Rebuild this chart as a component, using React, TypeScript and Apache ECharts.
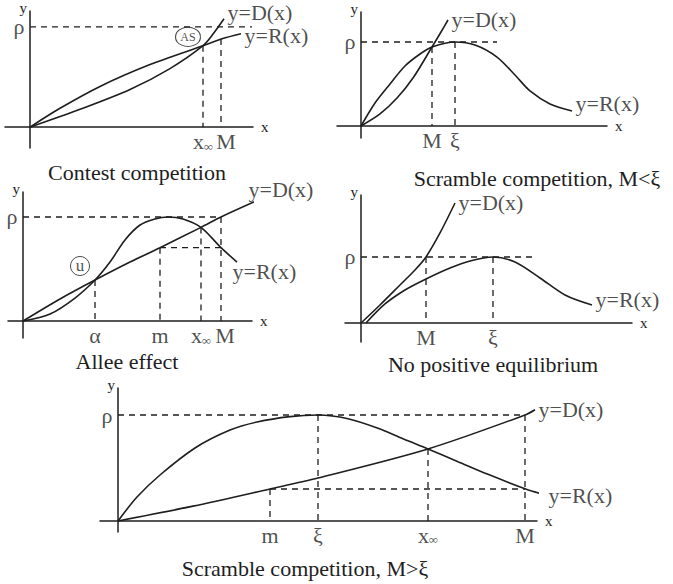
import React, { useEffect, useRef } from "react";
import * as echarts from "echarts";

type Pt = [number, number];
type Drop = [string, number, number]; // label, x, top of the dashed drop
type Step = [number, number, number]; // x from, x to, level

const INK = "#1e1e1e";
const SERIF = "'Liberation Serif', 'Times New Roman', serif";

// ---- Contest competition ----
const contestD: Pt[] = [[0, 0], [0.5, 0.178], [1.0, 0.376], [1.4, 0.584], [1.73, 0.812], [1.84, 0.941], [1.94, 1.08]];
const contestR: Pt[] = [[0, 0], [0.3, 0.188], [0.7, 0.406], [1.2, 0.624], [1.73, 0.812], [1.92, 0.881], [2.11, 0.931]];
const contestRhoEnd = 2.22;
const contestDrops: Drop[] = [["x∞", 1.73, 0.812], ["M", 1.91, 0.878]];
const contestSteps: Step[] = [];
const contestBadge: [string, number, number] = ["AS", 1.58, 0.9];

// ---- Scramble competition, M<ξ ----
const lowD: Pt[] = [[0, 0], [0.19, 0.143], [0.36, 0.333], [0.52, 0.571], [0.71, 0.94], [0.8, 1.119], [0.87, 1.262]];
const lowR: Pt[] = [[0, 0], [0.14, 0.274], [0.29, 0.5], [0.44, 0.714], [0.59, 0.857], [0.71, 0.94], [0.94, 1.0], [1.14, 0.964], [1.36, 0.821], [1.54, 0.607], [1.69, 0.417], [1.89, 0.262], [2.11, 0.179]];
const lowRhoEnd = 1.36;
const lowDrops: Drop[] = [["M", 0.71, 0.94], ["ξ", 0.94, 1.0]];

// ---- Allee effect ----
const alleeD: Pt[] = [[0, 0], [0.37, 0.212], [0.72, 0.394], [1.07, 0.567], [1.37, 0.705], [1.78, 0.9], [1.98, 1.0], [2.44, 1.2]];
const alleeR: Pt[] = [[0, 0], [0.27, 0.067], [0.52, 0.221], [0.72, 0.394], [0.87, 0.567], [1.02, 0.779], [1.17, 0.923], [1.32, 0.981], [1.45, 1.0], [1.6, 0.981], [1.78, 0.9], [1.98, 0.705], [2.14, 0.567]];
const alleeRhoEnd = 1.98;
const alleeDrops: Drop[] = [["α", 0.72, 0.394], ["m", 1.37, 0.705], ["x∞", 1.78, 0.9], ["M", 1.98, 1.0]];
const alleeSteps: Step[] = [[1.37, 1.98, 0.705]];
const alleeBadge: [string, number, number] = ["u", 0.57, 0.529];

// ---- No positive equilibrium ----
const noEqD: Pt[] = [[0, 0], [0.19, 0.273], [0.39, 0.576], [0.54, 0.803], [0.65, 1.0], [0.79, 1.364], [0.94, 1.818]];
const noEqR: Pt[] = [[0.05, 0], [0.24, 0.288], [0.44, 0.5], [0.65, 0.667], [0.89, 0.833], [1.09, 0.939], [1.32, 1.0], [1.54, 0.924], [1.79, 0.682], [2.04, 0.424], [2.31, 0.273]];
const noEqRhoEnd = 1.72;
const noEqDrops: Drop[] = [["M", 0.65, 1.0], ["ξ", 1.32, 1.0]];

// ---- Scramble competition, M>ξ ----
const highD: Pt[] = [[0, 0], [0.75, 0.14], [1.52, 0.302], [2.0, 0.406], [3.1, 0.68], [4.07, 1.0], [4.17, 1.05]];
const highR: Pt[] = [[0, 0], [0.19, 0.226], [0.42, 0.434], [0.77, 0.689], [1.12, 0.858], [1.39, 0.934], [1.72, 0.985], [2.0, 1.0], [2.3, 0.965], [2.6, 0.875], [2.85, 0.775], [3.1, 0.68], [3.4, 0.56], [3.7, 0.44], [4.07, 0.305], [4.27, 0.245]];
const highRhoEnd = 4.07;
const highDrops: Drop[] = [["m", 1.52, 0.302], ["ξ", 2.0, 1.0], ["x∞", 3.1, 0.68], ["M", 4.07, 1.0]];
const highSteps: Step[] = [[1.52, 4.07, 0.302]];

const titles = [
  "Contest competition",
  "Scramble competition, M<ξ",
  "Allee effect",
  "No positive equilibrium",
  "Scramble competition, M>ξ",
];

const panels = [
  { D: contestD, R: contestR, rhoEnd: contestRhoEnd, drops: contestDrops, steps: contestSteps, badge: contestBadge },
  { D: lowD, R: lowR, rhoEnd: lowRhoEnd, drops: lowDrops, steps: [] as Step[], badge: null },
  { D: alleeD, R: alleeR, rhoEnd: alleeRhoEnd, drops: alleeDrops, steps: alleeSteps, badge: alleeBadge },
  { D: noEqD, R: noEqR, rhoEnd: noEqRhoEnd, drops: noEqDrops, steps: [] as Step[], badge: null },
  { D: highD, R: highR, rhoEnd: highRhoEnd, drops: highDrops, steps: highSteps, badge: null },
];

// pixel frame of each small plot and the extent of its axes
const frames = [
  { left: 5, top: 10, width: 248, height: 138, x: [-0.25, 2.23], y: [-0.208, 1.158], title: [137, 172], dOff: [0, -6], rOff: [0, 2], nudge: { M: 5 } as Record<string, number>, badgeSize: [25, 19] },
  { left: 337, top: 12, width: 270, height: 126, x: [-0.24, 2.46], y: [-0.143, 1.357], title: [537, 178], dOff: [0, 0], rOff: [0, -7], nudge: {} as Record<string, number>, badgeSize: [0, 0] },
  { left: 8, top: 192, width: 244, height: 146, x: [-0.15, 2.29], y: [-0.163, 1.24], title: [127, 361], dOff: [-22, -7], rOff: [-8, 9], nudge: { M: 4 } as Record<string, number>, badgeSize: [19, 19] },
  { left: 345, top: 195, width: 287, height: 147, x: [-0.16, 2.71], y: [-0.288, 1.939], title: [493, 364], dOff: [0, 0], rOff: [0, -5], nudge: {} as Record<string, number>, badgeSize: [0, 0] },
  { left: 100, top: 388, width: 437, height: 144, x: [-0.18, 4.19], y: [-0.104, 1.255], title: [305, 568], dOff: [0, 0], rOff: [0, 0], nudge: {} as Record<string, number>, badgeSize: [0, 0] },
];

const BIG = 22;
const textBase = { fontFamily: SERIF, color: INK, fontSize: BIG };
const dashed = { color: INK, width: 1.3, type: [6, 5] as number[] };

function dropLabel(name: string) {
  if (name === "x∞") return "{a|x}{b|∞}";
  return name;
}

function buildOption() {
  const series: any[] = [];
  panels.forEach((p, i) => {
    const f = frames[i];
    const ax = { xAxisIndex: i, yAxisIndex: i };
    const curve = (pts: Pt[]) => ({
      type: "line", ...ax, data: pts, smooth: 0.3,
      symbol: "none", clip: false, silent: true,
      lineStyle: { color: INK, width: 1.6 },
    });
    series.push(curve(p.D), curve(p.R));
    const seg = (a: Pt, b: Pt) => ({
      type: "line", ...ax, data: [a, b], symbol: "none", clip: false, silent: true,
      lineStyle: dashed,
    });
    series.push(seg([0, 1], [p.rhoEnd, 1]));
    p.drops.forEach(([, x, top]) => series.push(seg([x, top], [x, 0])));
    p.steps.forEach(([x1, x2, y]) => series.push(seg([x1, y], [x2, y])));

    const notes: any[] = [];
    notes.push({ value: [0, 1], label: { formatter: "ρ", position: "left", distance: 5 } });
    p.drops.forEach(([name, x]) => {
      notes.push({
        value: [x, 0],
        label: {
          formatter: dropLabel(name), position: "bottom", distance: 3,
          offset: [f.nudge[name] || 0, 0],
        },
      });
    });
    const dEnd = p.D[p.D.length - 1];
    const rEnd = p.R[p.R.length - 1];
    notes.push({ value: dEnd, label: { formatter: "y=D(x)", position: "right", distance: 3, offset: f.dOff } });
    notes.push({ value: rEnd, label: { formatter: "y=R(x)", position: "right", distance: 3, offset: f.rOff } });
    series.push({
      type: "scatter", ...ax, data: notes, symbol: "circle", symbolSize: 1, clip: false, silent: true,
      itemStyle: { color: "rgba(0,0,0,0)" },
      label: {
        show: true, ...textBase,
        rich: {
          a: { fontFamily: SERIF, fontSize: BIG, color: INK },
          b: { fontFamily: SERIF, fontSize: 13, color: INK, verticalAlign: "bottom", padding: [9, 0, 0, 0] },
        },
      },
    });
    if (p.badge) {
      const [txt, bx, by] = p.badge;
      series.push({
        type: "scatter", ...ax, data: [[bx, by]], symbol: "circle", symbolSize: f.badgeSize,
        clip: false, silent: true, z: 5,
        itemStyle: { color: "rgba(255,255,255,0)", borderColor: INK, borderWidth: 1 },
        label: { show: true, position: "inside", formatter: txt, fontFamily: SERIF, color: INK, fontSize: txt === "u" ? 17 : 12 },
      });
    }
  });

  return {
    animation: false,
    backgroundColor: "#ffffff",
    grid: frames.map((f) => ({ left: f.left, top: f.top, width: f.width, height: f.height })),
    xAxis: frames.map((f, i) => ({
      type: "value", gridIndex: i, min: f.x[0], max: f.x[1],
      axisLine: { onZero: true, lineStyle: { color: INK, width: 1.5 } },
      axisTick: { show: false }, axisLabel: { show: false }, splitLine: { show: false },
      name: "x", nameLocation: "end", nameGap: 8,
      nameTextStyle: { fontFamily: SERIF, fontSize: 15, color: INK, padding: [0, 0, 4, 0] },
    })),
    yAxis: frames.map((f, i) => ({
      type: "value", gridIndex: i, min: f.y[0], max: f.y[1],
      axisLine: { onZero: true, lineStyle: { color: INK, width: 1.5 } },
      axisTick: { show: false }, axisLabel: { show: false }, splitLine: { show: false },
      name: "y", nameLocation: "end", nameGap: -4,
      nameTextStyle: { fontFamily: SERIF, fontSize: 15, color: INK, align: "right", padding: [0, 3, 0, 0] },
    })),
    graphic: titles.map((t, i) => ({
      type: "text",
      x: frames[i].title[0],
      y: frames[i].title[1],
      silent: true,
      style: {
        text: t, fill: INK, fontFamily: SERIF, fontSize: BIG,
        align: "center", verticalAlign: "middle",
      },
    })),
    series,
  };
}

export default function App() {
  const ref = useRef<HTMLDivElement>(null);
  useEffect(() => {
    if (!ref.current) return;
    const chart = echarts.init(ref.current, undefined, { renderer: "svg" });
    chart.setOption(buildOption() as any);
    return () => chart.dispose();
  }, []);
  return (
    <div
      ref={ref}
      style={{ position: "fixed", left: 0, top: 0, width: 673, height: 584, background: "#fff" }}
    />
  );
}
